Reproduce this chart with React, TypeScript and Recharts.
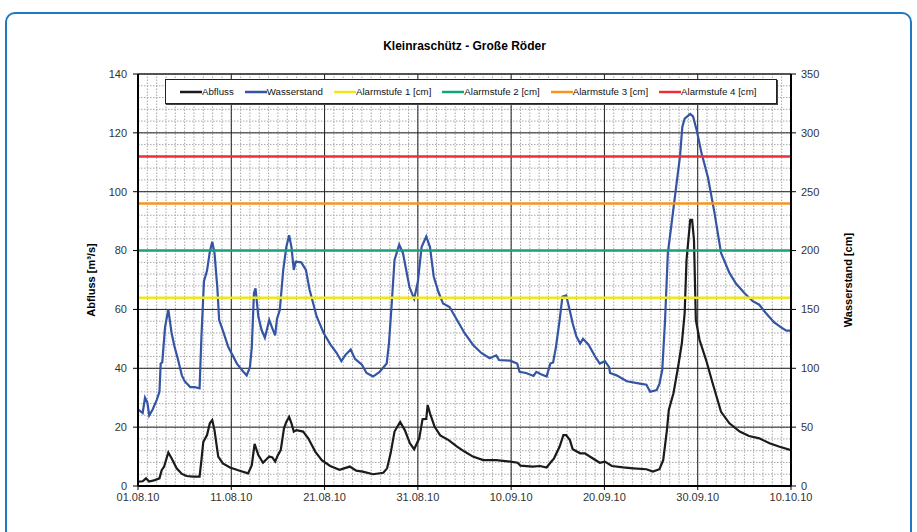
import { ComposedChart, Line, XAxis, YAxis, ReferenceLine } from "recharts";

// x = days since 01.08.10
const DATE_TICKS = [0, 10, 20, 30, 40, 50, 60, 70];
const DATE_LABELS = ["01.08.10", "11.08.10", "21.08.10", "31.08.10", "10.09.10", "20.09.10", "30.09.10", "10.10.10"];
const FLOW_TICKS = [0, 20, 40, 60, 80, 100, 120, 140];
const LEVEL_TICKS = [0, 50, 100, 150, 200, 250, 300, 350];

// Abfluss [m³/s]
const flowDays = [
  0, 0.5, 0.86, 1.2, 1.8, 2.3, 2.54, 2.8, 3.25, 3.6, 4.14, 4.7, 5.2, 5.9, 6.6, 6.8, 7.0, 7.4, 7.7, 7.96,
  8.2, 8.6, 9.1, 9.86, 10.9, 11.8, 12.2, 12.5, 12.9, 13.4, 14.07, 14.4, 14.7, 15.0, 15.3, 15.65, 15.9, 16.2,
  16.45, 16.7, 17.0, 17.7, 18.25, 19.0, 19.7, 20.6, 21.6, 22.7, 23.4, 24.1, 25.2, 26.3, 26.7, 27.08, 27.5,
  28.1, 28.6, 29.15, 29.6, 30.15, 30.5, 30.9, 31.05, 31.3, 31.8, 32.4, 33.3, 34.2, 35.0, 35.9, 37.0, 38.4,
  39.9, 40.7, 41.0, 42.3, 43.1, 43.8, 44.2, 44.6, 45.2, 45.6, 45.9, 46.3, 46.6, 47.4, 47.9, 48.6, 49.5,
  50.05, 50.8, 52.0, 53.1, 54.5, 55.2, 55.9, 56.3, 56.7, 56.9, 57.4, 57.9, 58.3, 58.6, 58.8, 59.0, 59.2,
  59.4, 59.6, 59.8, 60.2, 60.9, 61.6, 62.5, 63.4, 64.5, 65.5, 66.6, 67.7, 68.7, 70,
];
const flowValues = [
  1.5, 1.6, 2.6, 1.5, 2, 2.6, 5.4, 6.6, 11.4, 9.4, 6, 4.1, 3.4, 3.2, 3.2, 8.8, 15, 17.3, 21.3, 22.4,
  19, 10, 7.7, 6.3, 5.2, 4.3, 7.1, 14.3, 10.5, 7.9, 10, 9.7, 8.3, 10.5, 12.2, 19.6, 21.8, 23.5,
  21.3, 18.5, 19, 18.5, 16.2, 11.7, 8.8, 6.8, 5.5, 6.6, 5.2, 4.9, 4, 4.5, 6, 11.1, 18.5,
  21.8, 19, 14.5, 12.5, 16.2, 22.7, 22.8, 27.5, 24.7, 20.1, 17.2, 15.6, 13.4, 11.7, 10, 8.8, 8.8,
  8.3, 7.9, 6.9, 6.6, 6.8, 6.3, 7.9, 9.4, 13.4, 17.3, 17.3, 15.6, 12.5, 11.1, 11.1, 9.7, 7.9,
  8.3, 6.8, 6.3, 6, 5.7, 4.9, 5.7, 8.8, 19, 25.8, 31.5, 40.5, 48.5, 58.7, 76.8, 83.6, 90.4,
  90.4, 83.6, 56.4, 49.6, 42.8, 34.9, 25.2, 21.3, 18.5, 17, 16.2, 14.5, 13.4, 12.2,
];

// Wasserstand [cm]
const levelDays = [
  0, 0.5, 0.75, 1.0, 1.2, 1.57, 2.0, 2.3, 2.43, 2.6, 2.9, 3.25, 3.6, 3.9, 4.3, 4.7, 5.0, 5.6, 6.1, 6.6,
  6.8, 7.07, 7.4, 7.7, 7.96, 8.2, 8.5, 8.7, 9.1, 9.68, 10.6, 11.3, 11.65, 12.0, 12.2, 12.43, 12.6, 12.9,
  13.25, 13.6, 14.07, 14.4, 14.7, 14.9, 15.2, 15.57, 15.9, 16.2, 16.45, 16.7, 16.9, 17.5, 18.0, 18.4,
  19.15, 19.9, 20.6, 21.3, 21.8, 22.2, 22.8, 23.26, 24.0, 24.5, 25.2, 25.9, 26.66, 26.9, 27.2, 27.5,
  28.0, 28.4, 29.1, 29.6, 30.0, 30.4, 30.9, 31.3, 31.7, 32.2, 32.7, 33.4, 34.2, 35.0, 35.9, 36.8, 37.7,
  38.4, 38.7, 39.9, 40.65, 40.9, 41.6, 42.4, 42.7, 43.2, 43.8, 44.2, 44.5, 44.8, 45.2, 45.5, 45.9, 46.2,
  46.6, 47.0, 47.4, 47.7, 48.3, 49.0, 49.5, 50.05, 50.5, 50.6, 51.3, 52.4, 53.8, 54.5, 54.9, 55.6, 55.9,
  56.2, 56.5, 56.8, 57.2, 57.7, 58.1, 58.35, 58.6, 59.2, 59.5, 59.9, 60.4, 61.1, 61.8, 62.5, 63.4, 64.1,
  65.0, 65.9, 66.6, 67.3, 68.2, 68.9, 69.5, 70,
];
const levelValues = [
  65, 62, 75, 71, 60, 65, 73, 80, 104, 105, 135, 150, 130, 119, 107, 94, 89, 84, 84, 83,
  127, 174, 183, 199, 207.5, 198, 169, 141, 132, 118, 104, 97, 94, 101, 118, 164, 168, 144,
  132.5, 126, 141, 134, 128, 142, 149.5, 183.5, 203, 213, 203, 183.5, 190.5, 190, 183.5, 166.5,
  144, 130, 120.5, 113, 106, 111, 116, 108, 103, 96, 93, 97, 104, 121, 155, 192,
  205, 198, 169, 159, 173.5, 203, 212, 203, 178, 165, 155, 152, 141, 130, 120, 113, 108.5,
  111, 107, 106.5, 104, 97, 96, 93.5, 97, 95, 93, 104, 105, 118, 141, 161, 162, 152,
  138, 127, 121, 125, 120, 110, 104, 106, 101, 96, 94, 89, 87, 86, 80, 81.5, 87,
  98.5, 141, 198, 223, 255, 280, 305, 312, 316, 314, 302, 283, 262, 232, 198, 181, 172,
  164, 157, 154, 147, 139, 135, 132, 132,
];

const ALARM_NAMES = ["Alarmstufe 1 [cm]", "Alarmstufe 2 [cm]", "Alarmstufe 3 [cm]", "Alarmstufe 4 [cm]"];
const ALARM_LEVELS = [160, 200, 240, 280];
const ALARM_COLORS = ["#ede71c", "#17a37a", "#f7941e", "#ec2f36"];

const FLOW_COLOR = "#1b1b1b";
const LEVEL_COLOR = "#3454a4";

const flowData = flowDays.map((d, i) => ({ d, v: flowValues[i] }));
const levelData = levelDays.map((d, i) => ({ d, v: levelValues[i] }));

const legendItems = [
  { name: "Abfluss", color: FLOW_COLOR },
  { name: "Wasserstand", color: LEVEL_COLOR },
  ...ALARM_NAMES.map((name, i) => ({ name, color: ALARM_COLORS[i] })),
];

// grid: day lines + every 4 m³/s
const minorDays = Array.from({ length: 71 }, (_, i) => i);
const minorFlow = Array.from({ length: 36 }, (_, i) => i * 4);
const FONT = "'Liberation Sans', Arial, sans-serif";

export default function App() {
  return (
    <div style={{ position: "absolute", left: 0, top: 0, width: 917, height: 532, background: "#fff", overflow: "hidden", fontFamily: FONT }}>
      <div
        style={{
          position: "absolute",
          left: 5,
          top: 12,
          width: 903,
          height: 560,
          border: "2.5px solid #1f79c2",
          borderRadius: 10,
        }}
      />
      <div style={{ position: "absolute", left: 138, top: 39, width: 653, textAlign: "center", fontSize: 12, fontWeight: "bold", lineHeight: "14px" }}>
        Kleinraschütz - Große Röder
      </div>
      <ComposedChart width={917} height={532} margin={{ top: 74, right: 66, bottom: 16, left: 78 }} style={{ position: "absolute", left: 0, top: 0 }}>
        {minorDays.map((d) => (
          <ReferenceLine key={"vx" + d} x={d} yAxisId="l" stroke="#a8a8a8" strokeDasharray="1.5 1.5" strokeWidth={1} zIndex={-60} />
        ))}
        {minorFlow.map((f) => (
          <ReferenceLine key={"hy" + f} y={f} yAxisId="l" stroke="#a8a8a8" strokeDasharray="1.5 1.5" strokeWidth={1} zIndex={-60} />
        ))}
        {DATE_TICKS.slice(1, -1).map((d) => (
          <ReferenceLine key={"VX" + d} x={d} yAxisId="l" stroke="#222" strokeWidth={1} zIndex={-50} />
        ))}
        {FLOW_TICKS.slice(1).map((f) => (
          <ReferenceLine key={"HY" + f} y={f} yAxisId="l" stroke="#222" strokeWidth={f === 140 ? 1.5 : 1} zIndex={-50} />
        ))}
        <XAxis
          dataKey="d"
          type="number"
          domain={[0, 70]}
          ticks={DATE_TICKS}
          interval={0}
          tickFormatter={(v) => DATE_LABELS[DATE_TICKS.indexOf(v)]}
          height={30}
          tickSize={4}
          tickMargin={3}
          axisLine={{ stroke: "#000", strokeWidth: 2 }}
          tickLine={{ stroke: "#000" }}
          tick={{ fontSize: 11, fill: "#333", fontFamily: FONT }}
          allowDataOverflow
        />
        <YAxis
          yAxisId="l"
          domain={[0, 140]}
          ticks={FLOW_TICKS}
          interval={0}
          width={60}
          tickSize={5}
          tickMargin={6}
          axisLine={{ stroke: "#000", strokeWidth: 2 }}
          tickLine={{ stroke: "#000" }}
          tick={{ fontSize: 11, fill: "#333", fontFamily: FONT }}
          allowDataOverflow
          label={{
            content: ({ viewBox }: any) => {
              const cx = viewBox.x + 13;
              const cy = viewBox.y + viewBox.height / 2;
              return (
                <text x={cx} y={cy} dy="0.35em" transform={`rotate(-90 ${cx} ${cy})`} textAnchor="middle" fontSize={11} fontWeight="bold" fontFamily={FONT} fill="#000">
                  Abfluss [m³/s]
                </text>
              );
            },
          }}
        />
        <YAxis
          yAxisId="r"
          orientation="right"
          domain={[0, 350]}
          ticks={LEVEL_TICKS}
          interval={0}
          width={60}
          tickSize={5}
          tickMargin={5}
          axisLine={{ stroke: "#000", strokeWidth: 2 }}
          tickLine={{ stroke: "#000" }}
          tick={{ fontSize: 11, fill: "#333", fontFamily: FONT }}
          allowDataOverflow
          label={{
            content: ({ viewBox }: any) => {
              const cx = viewBox.x + 57;
              const cy = viewBox.y + viewBox.height / 2;
              return (
                <text x={cx} y={cy} dy="0.35em" transform={`rotate(-90 ${cx} ${cy})`} textAnchor="middle" fontSize={11} fontWeight="bold" fontFamily={FONT} fill="#000">
                  Wasserstand [cm]
                </text>
              );
            },
          }}
        />
        <Line yAxisId="l" data={flowData} dataKey="v" name="Abfluss" type="linear" stroke={FLOW_COLOR} strokeWidth={2.2} dot={false} isAnimationActive={false} />
        <Line yAxisId="r" data={levelData} dataKey="v" name="Wasserstand" type="linear" stroke={LEVEL_COLOR} strokeWidth={2.2} dot={false} isAnimationActive={false} />
        {ALARM_LEVELS.map((lvl, i) => (
          <Line
            key={ALARM_NAMES[i]}
            yAxisId="r"
            data={[{ d: 0, v: lvl }, { d: 70, v: lvl }]}
            dataKey="v"
            name={ALARM_NAMES[i]}
            type="linear"
            stroke={ALARM_COLORS[i]}
            strokeWidth={2.5}
            dot={false}
            isAnimationActive={false}
          />
        ))}
      </ComposedChart>
      <div
        style={{
          position: "absolute",
          left: 165,
          top: 79,
          width: 612,
          height: 25,
          border: "1px solid #222",
          boxShadow: "1px 1px 0 #444",
          background: "#fff",
          display: "flex",
          alignItems: "center",
          paddingLeft: 14,
          boxSizing: "border-box",
          fontSize: 9.7,
          color: "#111",
        }}
      >
        {legendItems.map((it) => (
          <div key={it.name} style={{ display: "flex", alignItems: "center", marginRight: 11 }}>
            <svg width={22} height={6}>
              <line x1={0} y1={3} x2={22} y2={3} stroke={it.color} strokeWidth={2.5} />
            </svg>
            <span style={{ whiteSpace: "nowrap" }}>{it.name}</span>
          </div>
        ))}
      </div>
    </div>
  );
}
